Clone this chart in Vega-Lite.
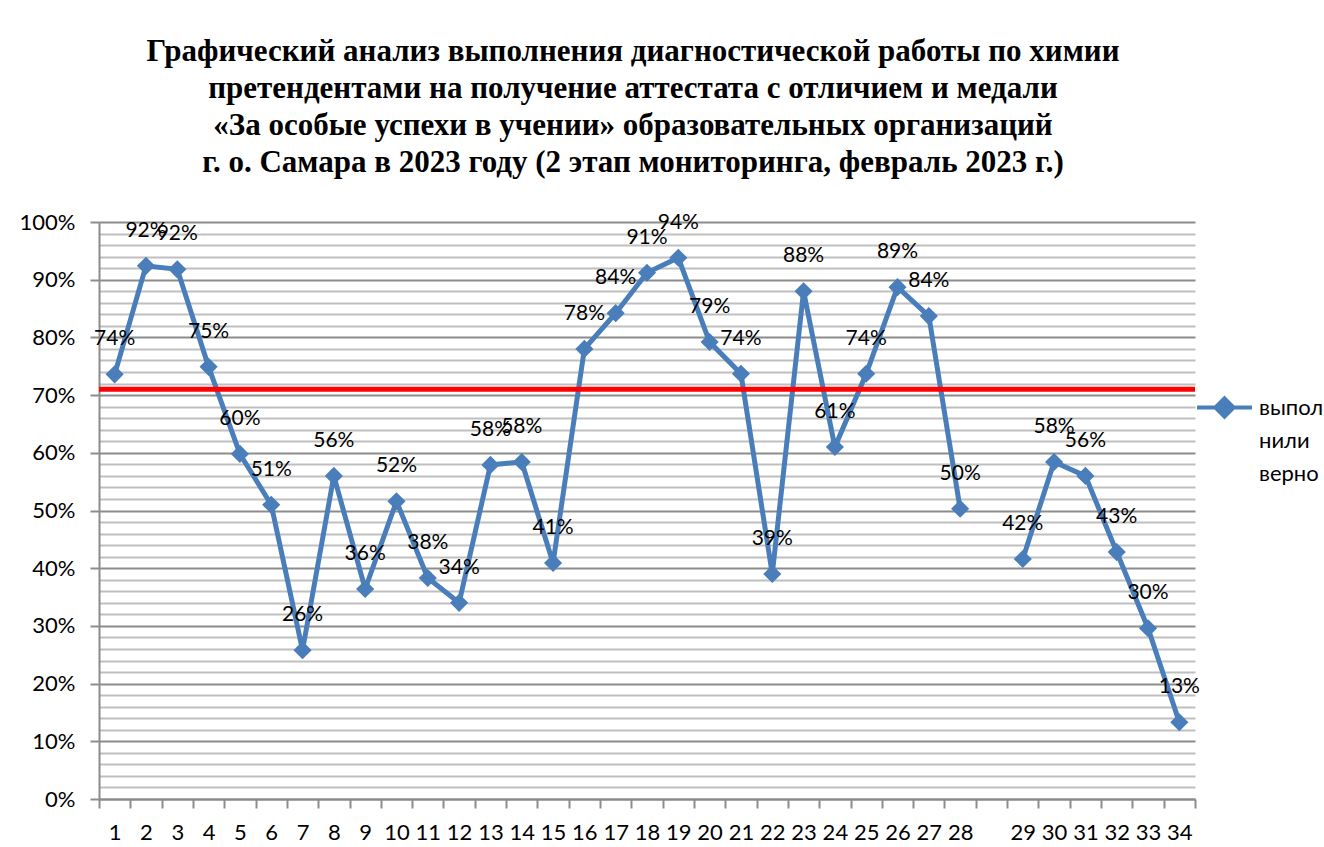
{
  "$schema": "https://vega.github.io/schema/vega-lite/v6.json",
  "width": 1096,
  "height": 577,
  "autosize": {"type": "none"},
  "padding": {"left": 99, "top": 222, "right": 129, "bottom": 48},
  "background": "white",
  "title": {
    "text": [
      "Графический анализ выполнения диагностической работы по химии",
      "претендентами на получение аттестата с отличием и медали",
      "«За особые успехи в учении» образовательных организаций",
      "г. о. Самара в 2023 году (2 этап мониторинга, февраль 2023 г.)"
    ],
    "font": "Liberation Serif",
    "fontSize": 31,
    "fontWeight": "bold",
    "color": "#000000",
    "lineHeight": 37,
    "anchor": "middle",
    "frame": "group",
    "dx": -14,
    "offset": 32
  },
  "config": {
    "view": {"stroke": null},
    "legend": {"padding": 0}
  },
  "data": {
    "values": [
      {"task": "1", "value": 0.736, "series": "выполнили верно"},
      {"task": "2", "value": 0.924, "series": "выполнили верно"},
      {"task": "3", "value": 0.918, "series": "выполнили верно"},
      {"task": "4", "value": 0.749, "series": "выполнили верно"},
      {"task": "5", "value": 0.598, "series": "выполнили верно"},
      {"task": "6", "value": 0.51, "series": "выполнили верно"},
      {"task": "7", "value": 0.258, "series": "выполнили верно"},
      {"task": "8", "value": 0.56, "series": "выполнили верно"},
      {"task": "9", "value": 0.364, "series": "выполнили верно"},
      {"task": "10", "value": 0.516, "series": "выполнили верно"},
      {"task": "11", "value": 0.383, "series": "выполнили верно"},
      {"task": "12", "value": 0.34, "series": "выполнили верно"},
      {"task": "13", "value": 0.579, "series": "выполнили верно"},
      {"task": "14", "value": 0.584, "series": "выполнили верно"},
      {"task": "15", "value": 0.409, "series": "выполнили верно"},
      {"task": "16", "value": 0.78, "series": "выполнили верно"},
      {"task": "17", "value": 0.842, "series": "выполнили верно"},
      {"task": "18", "value": 0.912, "series": "выполнили верно"},
      {"task": "19", "value": 0.938, "series": "выполнили верно"},
      {"task": "20", "value": 0.792, "series": "выполнили верно"},
      {"task": "21", "value": 0.737, "series": "выполнили верно"},
      {"task": "22", "value": 0.39, "series": "выполнили верно"},
      {"task": "23", "value": 0.88, "series": "выполнили верно"},
      {"task": "24", "value": 0.61, "series": "выполнили верно"},
      {"task": "25", "value": 0.737, "series": "выполнили верно"},
      {"task": "26", "value": 0.887, "series": "выполнили верно"},
      {"task": "27", "value": 0.837, "series": "выполнили верно"},
      {"task": "28", "value": 0.503, "series": "выполнили верно"},
      {"task": " ", "value": null, "series": "выполнили верно"},
      {"task": "29", "value": 0.416, "series": "выполнили верно"},
      {"task": "30", "value": 0.584, "series": "выполнили верно"},
      {"task": "31", "value": 0.56, "series": "выполнили верно"},
      {"task": "32", "value": 0.428, "series": "выполнили верно"},
      {"task": "33", "value": 0.296, "series": "выполнили верно"},
      {"task": "34", "value": 0.133, "series": "выполнили верно"}
    ]
  },
  "encoding": {
    "x": {
      "field": "task",
      "type": "ordinal",
      "sort": null,
      "scale": {"paddingInner": 0, "paddingOuter": 0},
      "axis": {
        "title": null,
        "labelAngle": 0,
        "labelFont": "Lato",
        "labelFontSize": 22,
        "labelColor": "#000000",
        "labelPadding": 14,
        "domainColor": "#8c8c8c",
        "domainWidth": 2,
        "tickBand": "extent",
        "tickColor": "#8c8c8c",
        "tickWidth": 2,
        "tickSize": 9,
        "grid": false
      }
    },
    "y": {
      "field": "value",
      "type": "quantitative",
      "scale": {"domain": [0, 1], "nice": false},
      "axis": {
        "title": null,
        "values": [0, 0.02, 0.04, 0.06, 0.08, 0.1, 0.12, 0.14, 0.16, 0.18, 0.2, 0.22, 0.24, 0.26, 0.28, 0.3, 0.32, 0.34, 0.36, 0.38, 0.4, 0.42, 0.44, 0.46, 0.48, 0.5, 0.52, 0.54, 0.56, 0.58, 0.6, 0.62, 0.64, 0.66, 0.68, 0.7, 0.72, 0.74, 0.76, 0.78, 0.8, 0.82, 0.84, 0.86, 0.88, 0.9, 0.92, 0.94, 0.96, 0.98, 1],
        "format": ".0%",
        "labelExpr": "round(datum.value * 100) % 10 == 0 ? datum.label : ''",
        "labelFont": "Lato",
        "labelFontSize": 22,
        "labelColor": "#000000",
        "labelPadding": 15,
        "grid": true,
        "gridWidth": 2,
        "gridColor": {"condition": {"test": "round(datum.value * 100) % 10 == 0", "value": "#8c8c8c"}, "value": "#bfbfbf"},
        "tickColor": {"condition": {"test": "round(datum.value * 100) % 10 == 0", "value": "#8c8c8c"}, "value": "transparent"},
        "tickWidth": 2,
        "tickSize": 9,
        "domainColor": "#8c8c8c",
        "domainWidth": 2
      }
    }
  },
  "layer": [
    {
      "mark": {"type": "line", "strokeWidth": 5, "invalid": "break-paths-show-domains"},
      "encoding": {
        "color": {
          "field": "series",
          "type": "nominal",
          "scale": {"range": ["#4a7ebb"]},
          "legend": {
            "title": null,
            "orient": "none",
            "legendX": 1096,
            "legendY": 156,
            "symbolType": "M-1,0H1M0,-0.33L0.33,0L0,0.33L-0.33,0Z",
            "symbolSize": 3025,
            "symbolStrokeWidth": 4,
            "symbolStrokeColor": "#4a7ebb",
            "symbolFillColor": "#4a7ebb",
            "labelExpr": "[substring(datum.label, 0, 5), substring(datum.label, 5, 9), substring(datum.label, 10)]",
            "labelFont": "Lato",
            "labelFontSize": 22,
            "labelColor": "#000000",
            "labelOffset": 5,
            "labelLimit": 0,
            "labelOverlap": false,
            "encode": {"labels": {"update": {"lineHeight": {"value": 33}}}}
          }
        }
      }
    },
    {
      "mark": {"type": "point", "shape": "diamond", "filled": true, "size": 330, "opacity": 1, "color": "#4a7ebb"}
    },
    {
      "mark": {"type": "text", "dy": -35, "font": "Lato", "fontSize": 21, "color": "#000000"},
      "encoding": {"text": {"field": "value", "type": "quantitative", "format": ".0%"}}
    },
    {
      "data": {"values": [{"value": 0.71}]},
      "mark": {"type": "rule", "color": "#ff0000", "strokeWidth": 5},
      "encoding": {
        "x": null
      }
    }
  ]
}
